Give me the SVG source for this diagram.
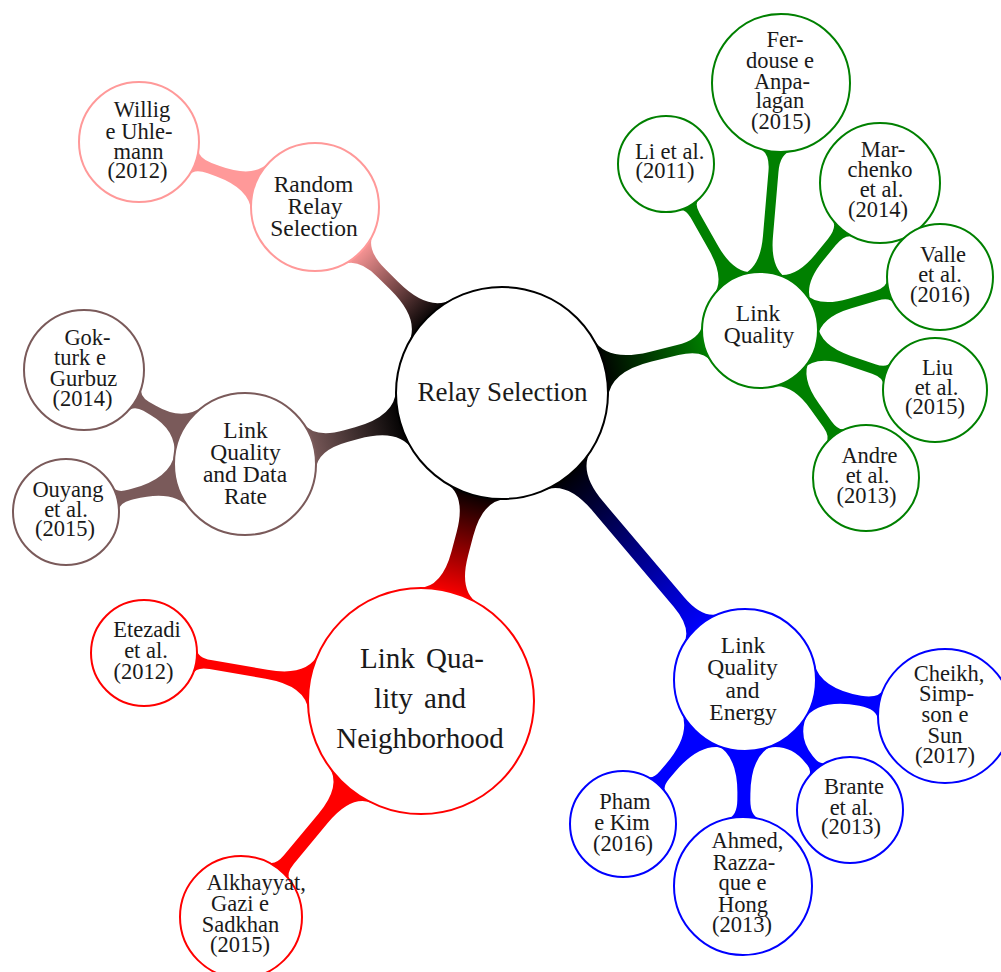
<svg xmlns="http://www.w3.org/2000/svg" width="1001" height="972" viewBox="0 0 1001 972">
<style>
.n{fill:#fff;stroke-width:2}
.t{font-family:"Liberation Serif","Times New Roman",serif;fill:#1a1a1a;text-anchor:middle}
.l3{font-size:22.5px}
.l2{font-size:23.5px}
.s{text-anchor:start}
</style>
<defs>
<linearGradient id="gG" x1="0" y1="0" x2="1" y2="0"><stop offset="0" stop-color="#000"/><stop offset="1" stop-color="#008000"/></linearGradient>
<linearGradient id="gB" x1="0" y1="0" x2="1" y2="0"><stop offset="0" stop-color="#000"/><stop offset="1" stop-color="#0000ff"/></linearGradient>
<linearGradient id="gR" x1="0" y1="0" x2="1" y2="0"><stop offset="0" stop-color="#000"/><stop offset="1" stop-color="#ff0000"/></linearGradient>
<linearGradient id="gW" x1="0" y1="0" x2="1" y2="0"><stop offset="0" stop-color="#000"/><stop offset="1" stop-color="#7a5a5a"/></linearGradient>
<linearGradient id="gP" x1="0" y1="0" x2="1" y2="0"><stop offset="0" stop-color="#000"/><stop offset="1" stop-color="#ff9999"/></linearGradient>
</defs>
<g id="connectors">
<path fill="url(#gG)" transform="translate(502,393) rotate(-13.72)" d="M101.4,-31 Q109.3,-5 152.8,-5 L180.4,-5 Q205.7,-5 211.1,-19.8 L211.1,19.8 Q205.7,5 180.4,5 L152.8,5 Q109.3,5 101.4,31 Z"/>
<path fill="url(#gB)" transform="translate(502,393) rotate(49.75)" d="M101.4,-31 Q108.7,-7 148.9,-7 L273.7,-7 Q303.1,-7 309.4,-24.3 L309.4,24.3 Q303.1,7 273.7,7 L148.9,7 Q108.7,7 101.4,31 Z"/>
<path fill="url(#gR)" transform="translate(502,393) rotate(104.73)" d="M101.4,-31 Q108.3,-8.5 145.9,-8.5 L165.7,-8.5 Q203.4,-8.5 209.9,-31.1 L209.9,31.1 Q203.4,8.5 165.7,8.5 L145.9,8.5 Q108.3,8.5 101.4,31 Z"/>
<path fill="url(#gW)" transform="translate(502,393) rotate(164.56)" d="M101.4,-31 Q109,-6 150.8,-6 L162.1,-6 Q193.2,-6 199.9,-24.3 L199.9,24.3 Q193.2,6 162.1,6 L150.8,6 Q109,6 101.4,31 Z"/>
<path fill="url(#gP)" transform="translate(502,393) rotate(-135.15)" d="M101.4,-31 Q109.2,-5.5 151.8,-5.5 L169.8,-5.5 Q197.7,-5.5 203.7,-21.9 L203.7,21.9 Q197.7,5.5 169.8,5.5 L151.8,5.5 Q109.2,5.5 101.4,31 Z"/>
<g fill="#008000">
<path transform="translate(760,330) rotate(-119.52)" d="M53,-23.6 Q61.3,-5 93.8,-5 L131.7,-5 Q142.6,-5 144.2,-11.6 L144.2,11.6 Q142.6,5 131.7,5 L93.8,5 Q61.3,5 53,23.6 Z"/>
<path transform="translate(760,330) rotate(-85.14)" d="M53,-23.6 Q61.3,-5 93.8,-5 L158.8,-5 Q178,-5 181,-16.7 L181,16.7 Q178,5 158.8,5 L93.8,5 Q61.3,5 53,23.6 Z"/>
<path transform="translate(760,330) rotate(-50.77)" d="M53,-23.6 Q61.3,-5 93.8,-5 L113.5,-5 Q129.2,-5 131.6,-14.5 L131.6,14.5 Q129.2,5 113.5,5 L93.8,5 Q61.3,5 53,23.6 Z"/>
<path transform="translate(760,330) rotate(-16.41)" d="M53,-23.6 Q61.3,-5 93.8,-5 L121.3,-5 Q134.2,-5 136.2,-12.8 L136.2,12.8 Q134.2,5 121.3,5 L93.8,5 Q61.3,5 53,23.6 Z"/>
<path transform="translate(760,330) rotate(18.92)" d="M53,-23.6 Q61.3,-5 93.8,-5 L120.2,-5 Q132.7,-5 134.5,-12.6 L134.5,12.6 Q132.7,5 120.2,5 L93.8,5 Q61.3,5 53,23.6 Z"/>
<path transform="translate(760,330) rotate(54.39)" d="M53,-23.6 Q61.3,-5 93.8,-5 L115.7,-5 Q128.6,-5 130.6,-12.8 L130.6,12.8 Q128.6,5 115.7,5 L93.8,5 Q61.3,5 53,23.6 Z"/>
</g>
<g fill="#0000ff">
<path transform="translate(745,680) rotate(10.2)" d="M64.9,-28.9 Q75.5,-5 117.1,-5 Q135.4,-5 138.2,-16.2 L138.2,16.2 Q135.4,5 117.1,5 Q75.5,5 64.9,28.9 Z"/>
<path transform="translate(745,680) rotate(51.07)" d="M64.9,-28.9 Q75.5,-5 101.6,-5 L105.7,-5 Q113.7,-5 115.7,-12.8 L115.7,12.8 Q113.7,5 105.7,5 L101.6,5 Q75.5,5 64.9,28.9 Z"/>
<path transform="translate(745,680) rotate(90.56)" d="M64.9,-28.9 Q74.8,-6.5 114,-6.5 L119.7,-6.5 Q136.5,-6.5 139.1,-16.7 L139.1,16.7 Q136.5,6.5 119.7,6.5 L114,6.5 Q74.8,6.5 64.9,28.9 Z"/>
<path transform="translate(745,680) rotate(130.27)" d="M64.9,-28.9 Q75.1,-6 115.1,-6 L124.3,-6 Q135.6,-6 137.3,-12.8 L137.3,12.8 Q135.6,6 124.3,6 L115.1,6 Q75.1,6 64.9,28.9 Z"/>
</g>
<g fill="#ff0000">
<path transform="translate(421,701) rotate(-170.17)" d="M109.2,-29.2 Q115.8,-4.5 156.8,-4.5 L213.9,-4.5 Q227.6,-4.5 229.7,-12.8 L229.7,12.8 Q227.6,4.5 213.9,4.5 L156.8,4.5 Q115.8,4.5 109.2,29.2 Z"/>
<path transform="translate(421,701) rotate(129.81)" d="M109.2,-29.2 Q115.2,-6.5 152.9,-6.5 L206.3,-6.5 Q220,-6.5 222,-14.8 L222,14.8 Q220,6.5 206.3,6.5 L152.9,6.5 Q115.2,6.5 109.2,29.2 Z"/>
</g>
<g fill="#7a5a5a">
<path transform="translate(245,464) rotate(-149.72)" d="M64.9,-28.9 Q75.4,-5.3 106.3,-5.3 L114.5,-5.3 Q125.9,-5.3 128.2,-14.5 L128.2,14.5 Q125.9,5.3 114.5,5.3 L106.3,5.3 Q75.4,5.3 64.9,28.9 Z"/>
<path transform="translate(245,464) rotate(164.99)" d="M64.9,-28.9 Q75.4,-5.3 116.7,-5.3 L119.6,-5.3 Q132,-5.3 133.9,-12.8 L133.9,12.8 Q132,5.3 119.6,5.3 L116.7,5.3 Q75.4,5.3 64.9,28.9 Z"/>
</g>
<path fill="#ff9999" transform="translate(315,207) rotate(-159.73)" d="M58.5,-26 Q67.6,-5.5 103.6,-5.5 L112.3,-5.5 Q127.1,-5.5 129.4,-14.5 L129.4,14.5 Q127.1,5.5 112.3,5.5 L103.6,5.5 Q67.6,5.5 58.5,26 Z"/>
</g>

<g id="relay-selection"><circle class="n" cx="502" cy="393" r="106" stroke="#000"/><text class="t" x="502.5" y="401" font-size="27">Relay Selection</text></g>

<g id="link-quality"><circle class="n" cx="760" cy="330" r="58" stroke="#008000"/><text class="t l2"><tspan x="758" y="321">Link</tspan><tspan x="759" y="343">Quality</tspan></text></g>
<g id="li"><circle class="n" cx="666" cy="164" r="48" stroke="#008000"/><text class="t l3"><tspan class="s" x="635" y="159">Li et al.</tspan><tspan x="665" y="178">(2011)</tspan></text></g>
<g id="ferdouse"><circle class="n" cx="781" cy="83" r="69" stroke="#008000"/><text class="t l3"><tspan x="785" y="47">Fer-</tspan><tspan x="780" y="68">douse e</tspan><tspan x="782" y="88.5">Anpa-</tspan><tspan x="780" y="108">lagan</tspan><tspan x="781" y="129">(2015)</tspan></text></g>
<g id="marchenko"><circle class="n" cx="880" cy="183" r="60" stroke="#008000"/><text class="t l3"><tspan x="883" y="157">Mar-</tspan><tspan x="880" y="177">chenko</tspan><tspan x="881.5" y="197">et al.</tspan><tspan x="878" y="217">(2014)</tspan></text></g>
<g id="valle"><circle class="n" cx="940" cy="277" r="53" stroke="#008000"/><text class="t l3"><tspan x="943" y="262">Valle</tspan><tspan x="940" y="282">et al.</tspan><tspan x="940" y="302">(2016)</tspan></text></g>
<g id="liu"><circle class="n" cx="935" cy="390" r="52" stroke="#008000"/><text class="t l3"><tspan x="937.5" y="375">Liu</tspan><tspan x="936.5" y="395">et al.</tspan><tspan x="935" y="414">(2015)</tspan></text></g>
<g id="andre"><circle class="n" cx="866" cy="478" r="53" stroke="#008000"/><text class="t l3"><tspan x="869.5" y="463">Andre</tspan><tspan x="867.5" y="483">et al.</tspan><tspan x="866.5" y="503">(2013)</tspan></text></g>

<g id="link-quality-energy"><circle class="n" cx="745" cy="680" r="71" stroke="#0000ff"/><text class="t l2"><tspan x="743" y="653">Link</tspan><tspan x="742.5" y="675">Quality</tspan><tspan x="742.5" y="697.5">and</tspan><tspan x="743" y="720">Energy</tspan></text></g>
<g id="cheikh"><circle class="n" cx="945" cy="716" r="67" stroke="#0000ff"/><text class="t l3"><tspan x="949" y="681">Cheikh,</tspan><tspan x="946.5" y="701">Simp-</tspan><tspan x="945" y="722">son e</tspan><tspan x="945" y="742.5">Sun</tspan><tspan x="945" y="763">(2017)</tspan></text></g>
<g id="brante"><circle class="n" cx="850" cy="810" r="53" stroke="#0000ff"/><text class="t l3"><tspan x="854" y="794">Brante</tspan><tspan x="851.5" y="815">et al.</tspan><tspan x="851" y="834">(2013)</tspan></text></g>
<g id="ahmed"><circle class="n" cx="743" cy="886" r="69" stroke="#0000ff"/><text class="t l3"><tspan x="747.5" y="848">Ahmed,</tspan><tspan x="744" y="870">Razza-</tspan><tspan x="742.5" y="890">que e</tspan><tspan x="743" y="911.5">Hong</tspan><tspan x="742" y="932">(2013)</tspan></text></g>
<g id="pham"><circle class="n" cx="623" cy="824" r="53" stroke="#0000ff"/><text class="t l3"><tspan x="625" y="809">Pham</tspan><tspan x="622" y="829.5">e Kim</tspan><tspan x="623" y="851">(2016)</tspan></text></g>

<g id="link-quality-neighborhood"><circle class="n" cx="421" cy="701" r="113" stroke="#ff0000"/><text class="t" font-size="29px"><tspan x="422" y="668" word-spacing="4">Link Qua-</tspan><tspan x="420" y="708" word-spacing="4">lity and</tspan><tspan x="420" y="748">Neighborhood</tspan></text></g>
<g id="etezadi"><circle class="n" cx="144" cy="653" r="53" stroke="#ff0000"/><text class="t l3"><tspan x="147" y="637">Etezadi</tspan><tspan x="146" y="658">et al.</tspan><tspan x="143.5" y="678.5">(2012)</tspan></text></g>
<g id="alkhayyat"><circle class="n" cx="241" cy="917" r="61" stroke="#ff0000"/><text class="t l3"><tspan class="s" x="206.5" y="890">Alkhayyat,</tspan><tspan x="240" y="911">Gazi e</tspan><tspan x="240.5" y="932">Sadkhan</tspan><tspan x="240" y="952">(2015)</tspan></text></g>

<g id="link-quality-data-rate"><circle class="n" cx="245" cy="464" r="71" stroke="#7a5a5a"/><text class="t l2"><tspan x="245.5" y="438">Link</tspan><tspan x="245.5" y="460">Quality</tspan><tspan x="245" y="482">and Data</tspan><tspan x="245.5" y="504">Rate</tspan></text></g>
<g id="gokturk"><circle class="n" cx="84" cy="370" r="60" stroke="#7a5a5a"/><text class="t l3"><tspan x="87.5" y="345">Gok-</tspan><tspan x="80" y="365">turk e</tspan><tspan x="83.5" y="386">Gurbuz</tspan><tspan x="82.5" y="406">(2014)</tspan></text></g>
<g id="ouyang"><circle class="n" cx="66" cy="512" r="53" stroke="#7a5a5a"/><text class="t l3"><tspan x="68" y="497">Ouyang</tspan><tspan x="66" y="517">et al.</tspan><tspan x="65" y="535.5">(2015)</tspan></text></g>

<g id="random-relay-selection"><circle class="n" cx="315" cy="207" r="64" stroke="#ff9999"/><text class="t l2"><tspan x="313.5" y="192">Random</tspan><tspan x="315" y="213.5">Relay</tspan><tspan x="314" y="236">Selection</tspan></text></g>
<g id="willig"><circle class="n" cx="139" cy="142" r="60" stroke="#ff9999"/><text class="t l3"><tspan x="142" y="117">Willig</tspan><tspan x="139" y="138.5">e Uhle-</tspan><tspan x="138.5" y="158.5">mann</tspan><tspan x="137.5" y="178">(2012)</tspan></text></g>
</svg>
